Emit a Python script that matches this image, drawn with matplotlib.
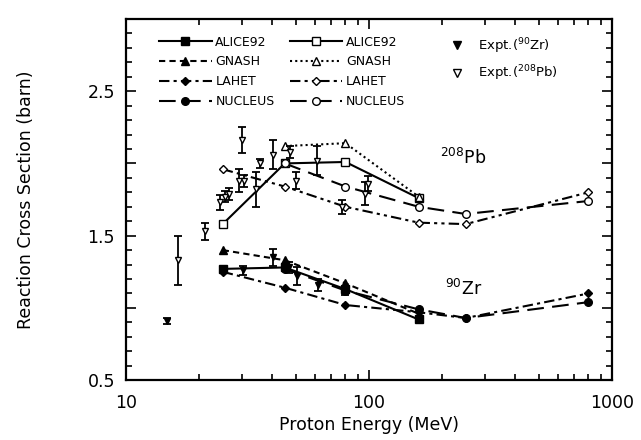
import matplotlib
matplotlib.use('Agg')
import matplotlib.pyplot as plt
from matplotlib.ticker import MultipleLocator, FixedLocator, FixedFormatter, LogLocator, NullFormatter
from matplotlib.lines import Line2D

# ---- model calculations ----
E_alice = [25, 45, 80, 160]
zr_alice = [1.27, 1.28, 1.13, 0.92]
pb_alice = [1.58, 2.00, 2.01, 1.76]

E_gnash_zr = [25, 45, 80, 160]
zr_gnash = [1.40, 1.33, 1.17, 0.96]
E_gnash_pb = [45, 80, 160]
pb_gnash = [2.12, 2.14, 1.77]

E_lahet = [25, 45, 80, 160, 250, 800]
zr_lahet = [1.25, 1.14, 1.02, 0.97, 0.93, 1.10]
pb_lahet = [1.96, 1.84, 1.70, 1.59, 1.58, 1.80]

E_nucleus = [45, 80, 160, 250, 800]
zr_nucleus = [1.27, 1.12, 0.99, 0.93, 1.04]
pb_nucleus = [2.00, 1.84, 1.70, 1.65, 1.74]

# ---- experimental data ----
E_exp_zr = [14.7, 30.3, 40.3, 47.0, 50.6, 61.7, 80.0]
exp_zr = [0.91, 1.26, 1.35, 1.28, 1.22, 1.16, 1.12]
err_zr = [0.02, 0.03, 0.06, 0.04, 0.06, 0.04, 0.03]

E_exp_pb = [16.4, 21.1, 24.4, 25.5, 26.6, 29.2, 30.5, 30.0, 34.3, 35.6,
            40.3, 47.3, 50.0, 61.0, 77.4, 96.0, 99.0]
exp_pb = [1.33, 1.53, 1.73, 1.77, 1.79, 1.88, 1.88, 2.16, 1.82, 2.00,
          2.06, 2.08, 1.88, 2.02, 1.70, 1.79, 1.86]
err_pb = [0.17, 0.06, 0.05, 0.04, 0.04, 0.08, 0.04, 0.09, 0.12, 0.03,
          0.10, 0.04, 0.06, 0.10, 0.05, 0.08, 0.05]

x_ticks = [10, 100, 1000]
x_ticklabels = ['10', '100', '1000']
y_ticks = [0.5, 1.0, 1.5, 2.0, 2.5, 3.0]
y_ticklabels = ['0.5', '', '1.5', '', '2.5', '']

fig = plt.figure(figsize=(6.41, 4.40), dpi=100)
ax = fig.add_axes([0.1966, 0.136, 0.7582, 0.821])

lw = 1.5
ms = 5.5
k = 'black'

# Zr (filled markers)
h1, = ax.plot(E_alice, zr_alice, color=k, lw=lw, ls='-', marker='s', ms=ms, mfc=k, label='ALICE92')
h2, = ax.plot(E_gnash_zr, zr_gnash, color=k, lw=lw, ls=(0, (3, 2)), marker='^', ms=ms, mfc=k, label='GNASH')
h3, = ax.plot(E_lahet, zr_lahet, color=k, lw=lw, ls=(0, (5, 2, 1.5, 2)), marker='D', ms=ms-1.5, mfc=k, label='LAHET')
h4, = ax.plot(E_nucleus, zr_nucleus, color=k, lw=lw, ls=(0, (8, 4)), marker='o', ms=ms, mfc=k, label='NUCLEUS')

# Pb (open markers)
h5, = ax.plot(E_alice, pb_alice, color=k, lw=lw, ls='-', marker='s', ms=ms, mfc='white', label='ALICE92')
h6, = ax.plot(E_gnash_pb, pb_gnash, color=k, lw=lw, ls=(0, (1, 1.5)), marker='^', ms=ms, mfc='white', label='GNASH')
h7, = ax.plot(E_lahet, pb_lahet, color=k, lw=lw, ls=(0, (5, 2, 1.5, 2, 1.5, 2)), marker='D', ms=ms-1.5, mfc='white', label='LAHET')
h8, = ax.plot(E_nucleus, pb_nucleus, color=k, lw=lw, ls=(0, (8, 4)), marker='o', ms=ms, mfc='white', label='NUCLEUS')

# Experimental
ax.errorbar(E_exp_zr, exp_zr, yerr=err_zr, fmt='v', color=k, mfc=k, ms=5, capsize=3, elinewidth=1.3, capthick=1.3)
ax.errorbar(E_exp_pb, exp_pb, yerr=err_pb, fmt='v', color=k, mfc='white', ms=5, capsize=3, elinewidth=1.3, capthick=1.3)

ax.set_xscale('log')
ax.set_xlim(10, 1000)
ax.set_ylim(0.5, 3.0)

ax.xaxis.set_major_locator(FixedLocator(x_ticks))
ax.xaxis.set_major_formatter(FixedFormatter(x_ticklabels))
ax.xaxis.set_minor_locator(LogLocator(base=10, subs=[2, 3, 4, 5, 6, 7, 8, 9]))
ax.xaxis.set_minor_formatter(NullFormatter())
ax.yaxis.set_major_locator(FixedLocator(y_ticks))
ax.yaxis.set_major_formatter(FixedFormatter(y_ticklabels))
ax.yaxis.set_minor_locator(MultipleLocator(0.1))

ax.tick_params(which='both', direction='in', top=True, right=True, labelsize=12.5, width=1.2)
ax.tick_params(which='major', length=7)
ax.tick_params(axis='x', which='major', pad=10)
ax.tick_params(axis='y', which='major', pad=8)
ax.tick_params(which='minor', length=4)
for s in ax.spines.values():
    s.set_linewidth(1.6)

ax.set_xlabel('Proton Energy (MeV)', fontsize=12.5, labelpad=3)
ax.set_ylabel('Reaction Cross Section (barn)', fontsize=12.5, labelpad=38)

ax.text(244, 2.04, r'$^{208}$Pb', fontsize=12.5, ha='center', va='center')
ax.text(244, 1.13, r'$^{90}$Zr', fontsize=12.5, ha='center', va='center')

leg1 = ax.legend(handles=[h1, h2, h3, h4, h5, h6, h7, h8], ncol=2, loc='upper left',
                 bbox_to_anchor=(0.045, 0.985), frameon=False, fontsize=9,
                 handlelength=4.2, handletextpad=0.3, columnspacing=1.2, labelspacing=0.55)
ax.add_artist(leg1)
e1 = Line2D([], [], ls='none', marker='v', color=k, mfc=k, ms=5.5)
e2 = Line2D([], [], ls='none', marker='v', color=k, mfc='white', ms=5.5)
ax.legend(handles=[e1, e2], labels=[r'Expt.($^{90}$Zr)', r'Expt.($^{208}$Pb)'], loc='upper left',
          bbox_to_anchor=(0.63, 0.985), frameon=False, fontsize=9.5,
          handlelength=2.0, handletextpad=0.6, labelspacing=0.6)

fig.savefig('out.png', dpi=100)
